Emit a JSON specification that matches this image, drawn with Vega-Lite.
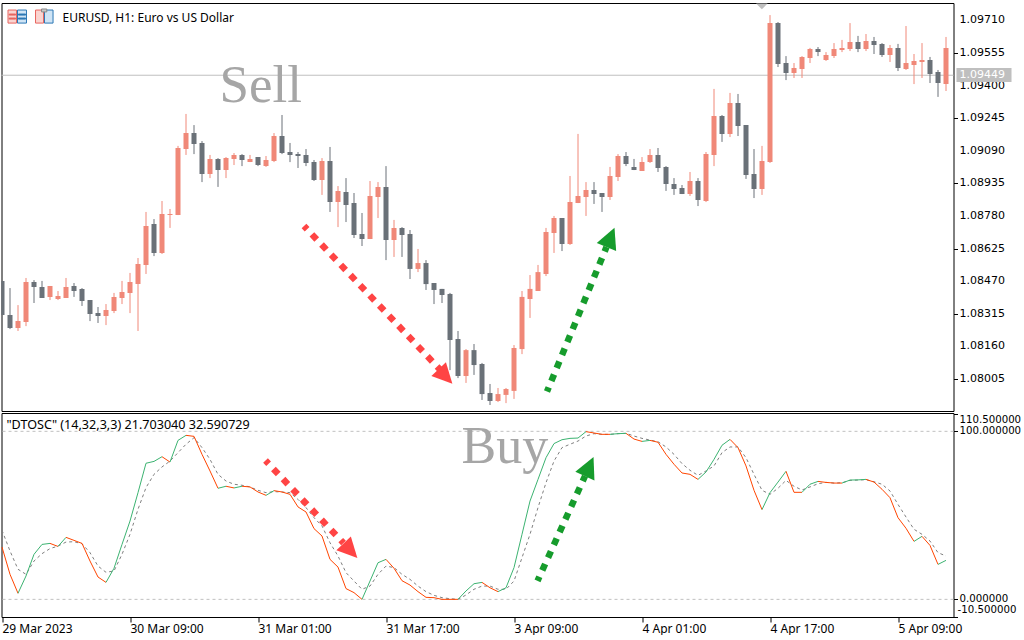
{
"$schema":"https://vega.github.io/schema/vega-lite/v6.json",
"padding":{"left":-0.5,"top":2,"right":0,"bottom":0},
"bounds":"flush",
"background":"white",
"spacing":2,
"config":{"view":{"stroke":"#000000","strokeWidth":1},"axis":{"grid":false,"domain":false,"title":null,"tickColor":"#000000","labelColor":"#000000","labelFont":"Noto Sans","labelFontSize":12,"tickSize":4,"labelPadding":1},"text":{"font":"Noto Sans","fontSize":12}},
"datasets":{
"candles":[
{"bar":0,"open":1.08471,"high":1.08471,"low":1.08309,"close":1.08309},
{"bar":1,"open":1.08309,"high":1.08437,"low":1.08242,"close":1.08247},
{"bar":2,"open":1.08247,"high":1.08356,"low":1.08233,"close":1.0828},
{"bar":3,"open":1.08276,"high":1.08485,"low":1.08256,"close":1.08466},
{"bar":4,"open":1.08466,"high":1.08475,"low":1.08366,"close":1.08442},
{"bar":5,"open":1.08442,"high":1.08471,"low":1.0839,"close":1.0839},
{"bar":6,"open":1.08395,"high":1.08447,"low":1.0838,"close":1.08447},
{"bar":7,"open":1.08385,"high":1.08423,"low":1.0838,"close":1.08399},
{"bar":8,"open":1.0839,"high":1.08485,"low":1.0839,"close":1.08442},
{"bar":9,"open":1.08447,"high":1.08461,"low":1.08395,"close":1.08423},
{"bar":10,"open":1.08433,"high":1.08437,"low":1.08352,"close":1.08376},
{"bar":11,"open":1.0838,"high":1.0838,"low":1.0828,"close":1.08314},
{"bar":12,"open":1.08318,"high":1.08347,"low":1.08271,"close":1.08304},
{"bar":13,"open":1.08304,"high":1.08361,"low":1.08261,"close":1.08333},
{"bar":14,"open":1.08328,"high":1.08414,"low":1.08318,"close":1.08395},
{"bar":15,"open":1.0839,"high":1.08471,"low":1.08361,"close":1.08418},
{"bar":16,"open":1.08414,"high":1.08509,"low":1.08318,"close":1.08466},
{"bar":17,"open":1.08456,"high":1.0858,"low":1.08233,"close":1.08551},
{"bar":18,"open":1.08547,"high":1.08799,"low":1.08504,"close":1.08732},
{"bar":19,"open":1.08742,"high":1.08765,"low":1.08589,"close":1.08604},
{"bar":20,"open":1.08604,"high":1.08851,"low":1.08599,"close":1.08789},
{"bar":21,"open":1.08784,"high":1.08813,"low":1.08723,"close":1.08789},
{"bar":22,"open":1.08784,"high":1.09113,"low":1.08784,"close":1.09103},
{"bar":23,"open":1.09098,"high":1.09265,"low":1.0907,"close":1.09174},
{"bar":24,"open":1.09174,"high":1.09212,"low":1.09074,"close":1.09122},
{"bar":25,"open":1.09127,"high":1.09136,"low":1.08941,"close":1.08979},
{"bar":26,"open":1.08979,"high":1.0907,"low":1.0896,"close":1.09051},
{"bar":27,"open":1.09051,"high":1.09055,"low":1.08918,"close":1.08998},
{"bar":28,"open":1.08998,"high":1.0906,"low":1.0896,"close":1.09055},
{"bar":29,"open":1.09051,"high":1.09079,"low":1.09022,"close":1.0907},
{"bar":30,"open":1.0907,"high":1.09074,"low":1.09017,"close":1.09046},
{"bar":31,"open":1.09036,"high":1.0907,"low":1.09036,"close":1.09051},
{"bar":32,"open":1.0906,"high":1.0906,"low":1.09017,"close":1.09022},
{"bar":33,"open":1.09017,"high":1.09065,"low":1.09013,"close":1.09046},
{"bar":34,"open":1.09041,"high":1.09174,"low":1.09036,"close":1.0916},
{"bar":35,"open":1.0916,"high":1.0926,"low":1.09074,"close":1.09079},
{"bar":36,"open":1.09084,"high":1.09127,"low":1.09036,"close":1.0907},
{"bar":37,"open":1.09074,"high":1.09084,"low":1.09008,"close":1.09065},
{"bar":38,"open":1.0907,"high":1.09098,"low":1.09017,"close":1.09032},
{"bar":39,"open":1.09036,"high":1.09046,"low":1.08946,"close":1.08951},
{"bar":40,"open":1.08951,"high":1.09055,"low":1.0888,"close":1.09041},
{"bar":41,"open":1.09041,"high":1.09108,"low":1.08799,"close":1.08846},
{"bar":42,"open":1.08846,"high":1.08922,"low":1.08727,"close":1.08899},
{"bar":43,"open":1.08894,"high":1.0896,"low":1.08751,"close":1.08832},
{"bar":44,"open":1.08841,"high":1.08889,"low":1.08675,"close":1.08689},
{"bar":45,"open":1.08694,"high":1.08794,"low":1.08637,"close":1.0867},
{"bar":46,"open":1.0867,"high":1.08946,"low":1.0867,"close":1.08875},
{"bar":47,"open":1.0887,"high":1.08941,"low":1.0877,"close":1.08918},
{"bar":48,"open":1.08918,"high":1.09017,"low":1.0857,"close":1.08666},
{"bar":49,"open":1.08666,"high":1.08761,"low":1.08585,"close":1.08723},
{"bar":50,"open":1.08723,"high":1.08727,"low":1.08585,"close":1.08689},
{"bar":51,"open":1.08694,"high":1.08713,"low":1.0848,"close":1.08528},
{"bar":52,"open":1.08528,"high":1.08623,"low":1.08513,"close":1.08556},
{"bar":53,"open":1.08556,"high":1.0857,"low":1.08428,"close":1.08456},
{"bar":54,"open":1.08461,"high":1.08461,"low":1.08361,"close":1.08428},
{"bar":55,"open":1.08433,"high":1.08433,"low":1.08366,"close":1.08404},
{"bar":56,"open":1.08409,"high":1.08414,"low":1.08047,"close":1.0819},
{"bar":57,"open":1.08195,"high":1.08233,"low":1.08009,"close":1.08019},
{"bar":58,"open":1.08019,"high":1.08147,"low":1.07986,"close":1.08142},
{"bar":59,"open":1.08142,"high":1.08171,"low":1.08024,"close":1.08071},
{"bar":60,"open":1.08076,"high":1.08081,"low":1.07905,"close":1.07933},
{"bar":61,"open":1.07938,"high":1.07981,"low":1.07881,"close":1.079},
{"bar":62,"open":1.079,"high":1.07962,"low":1.07895,"close":1.07933},
{"bar":63,"open":1.07929,"high":1.07962,"low":1.0789,"close":1.07957},
{"bar":64,"open":1.07948,"high":1.08166,"low":1.0791,"close":1.08152},
{"bar":65,"open":1.08147,"high":1.08423,"low":1.08123,"close":1.08395},
{"bar":66,"open":1.08385,"high":1.08499,"low":1.08295,"close":1.08433},
{"bar":67,"open":1.08423,"high":1.08547,"low":1.08423,"close":1.08513},
{"bar":68,"open":1.08504,"high":1.08723,"low":1.08494,"close":1.08704},
{"bar":69,"open":1.08699,"high":1.0878,"low":1.08604,"close":1.0877},
{"bar":70,"open":1.0877,"high":1.0877,"low":1.08613,"close":1.08647},
{"bar":71,"open":1.08647,"high":1.0897,"low":1.08642,"close":1.08846},
{"bar":72,"open":1.08841,"high":1.0917,"low":1.08841,"close":1.08875},
{"bar":73,"open":1.0887,"high":1.08941,"low":1.0878,"close":1.08903},
{"bar":74,"open":1.08903,"high":1.08941,"low":1.08837,"close":1.08884},
{"bar":75,"open":1.08889,"high":1.08889,"low":1.08799,"close":1.0887},
{"bar":76,"open":1.0887,"high":1.09013,"low":1.08856,"close":1.0897},
{"bar":77,"open":1.08965,"high":1.09074,"low":1.08946,"close":1.09065},
{"bar":78,"open":1.09065,"high":1.09084,"low":1.09017,"close":1.09027},
{"bar":79,"open":1.09013,"high":1.09051,"low":1.08998,"close":1.08998},
{"bar":80,"open":1.08994,"high":1.0906,"low":1.08994,"close":1.09036},
{"bar":81,"open":1.09036,"high":1.09098,"low":1.09032,"close":1.0907},
{"bar":82,"open":1.0907,"high":1.09103,"low":1.08989,"close":1.09008},
{"bar":83,"open":1.09013,"high":1.09017,"low":1.08899,"close":1.08932},
{"bar":84,"open":1.08932,"high":1.0896,"low":1.0888,"close":1.08908},
{"bar":85,"open":1.08913,"high":1.08927,"low":1.08884,"close":1.08884},
{"bar":86,"open":1.08884,"high":1.08989,"low":1.08875,"close":1.08946},
{"bar":87,"open":1.08946,"high":1.0896,"low":1.08827,"close":1.08856},
{"bar":88,"open":1.08851,"high":1.09084,"low":1.08846,"close":1.09074},
{"bar":89,"open":1.0907,"high":1.09384,"low":1.09017,"close":1.09255},
{"bar":90,"open":1.09255,"high":1.0926,"low":1.09132,"close":1.0917},
{"bar":91,"open":1.0917,"high":1.09365,"low":1.09155,"close":1.09317},
{"bar":92,"open":1.09317,"high":1.0936,"low":1.0916,"close":1.09208},
{"bar":93,"open":1.09212,"high":1.09212,"low":1.08956,"close":1.08975},
{"bar":94,"open":1.08979,"high":1.09098,"low":1.08865,"close":1.08908},
{"bar":95,"open":1.08908,"high":1.09113,"low":1.0888,"close":1.09041},
{"bar":96,"open":1.09036,"high":1.09735,"low":1.09032,"close":1.09697},
{"bar":97,"open":1.09697,"high":1.09702,"low":1.09488,"close":1.09502},
{"bar":98,"open":1.09507,"high":1.0954,"low":1.09426,"close":1.0946},
{"bar":99,"open":1.0946,"high":1.09507,"low":1.09436,"close":1.09483},
{"bar":100,"open":1.09479,"high":1.0954,"low":1.09436,"close":1.09536},
{"bar":101,"open":1.09531,"high":1.09579,"low":1.09507,"close":1.09574},
{"bar":102,"open":1.09574,"high":1.09583,"low":1.0954,"close":1.09559},
{"bar":103,"open":1.09521,"high":1.09559,"low":1.09517,"close":1.09545},
{"bar":104,"open":1.0954,"high":1.09602,"low":1.09531,"close":1.09574},
{"bar":105,"open":1.09569,"high":1.09617,"low":1.09559,"close":1.09579},
{"bar":106,"open":1.09574,"high":1.09697,"low":1.09564,"close":1.09607},
{"bar":107,"open":1.09607,"high":1.09636,"low":1.09559,"close":1.09574},
{"bar":108,"open":1.09574,"high":1.09645,"low":1.09564,"close":1.09612},
{"bar":109,"open":1.09612,"high":1.09631,"low":1.0955,"close":1.09593},
{"bar":110,"open":1.09598,"high":1.09602,"low":1.09536,"close":1.09545},
{"bar":111,"open":1.09545,"high":1.09593,"low":1.09512,"close":1.09579},
{"bar":112,"open":1.09579,"high":1.09598,"low":1.09469,"close":1.09483},
{"bar":113,"open":1.09479,"high":1.09683,"low":1.09474,"close":1.09507},
{"bar":114,"open":1.09498,"high":1.0955,"low":1.09407,"close":1.09517},
{"bar":115,"open":1.09512,"high":1.09602,"low":1.09436,"close":1.09521},
{"bar":116,"open":1.09521,"high":1.09536,"low":1.09412,"close":1.09455},
{"bar":117,"open":1.09464,"high":1.09474,"low":1.09346,"close":1.09412},
{"bar":118,"open":1.09407,"high":1.09631,"low":1.09374,"close":1.09579}
],
"osc":[
{"bar":0,"main":31.1,"signal":41.1},{"bar":1,"main":14.9,"signal":28.8},{"bar":2,"main":3.6,"signal":17.9},{"bar":3,"main":13.9,"signal":14.9},{"bar":4,"main":26.8,"signal":22.8},
{"bar":5,"main":32.7,"signal":27.2},{"bar":6,"main":33.3,"signal":30.2},{"bar":7,"main":31.5,"signal":31.7},{"bar":8,"main":36.9,"signal":34.1},{"bar":9,"main":35.1,"signal":34.3},
{"bar":10,"main":33.3,"signal":33.1},{"bar":11,"main":22.8,"signal":27.8},{"bar":12,"main":13.3,"signal":19.8},{"bar":13,"main":10.1,"signal":16.1},{"bar":14,"main":18.5,"signal":16.9},
{"bar":15,"main":32.7,"signal":26.8},{"bar":16,"main":46.6,"signal":38.7},{"bar":17,"main":63.5,"signal":53.6},{"bar":18,"main":81.0,"signal":66.5},{"bar":19,"main":82.1,"signal":74.4},
{"bar":20,"main":84.9,"signal":78.8},{"bar":21,"main":81.7,"signal":82.3},{"bar":22,"main":94.6,"signal":87.3},{"bar":23,"main":97.6,"signal":92.3},{"bar":24,"main":97.0,"signal":96.2},
{"bar":25,"main":86.3,"signal":90.3},{"bar":26,"main":76.4,"signal":83.3},{"bar":27,"main":66.1,"signal":74.4},{"bar":28,"main":67.3,"signal":70.4},{"bar":29,"main":66.3,"signal":68.5},
{"bar":30,"main":67.3,"signal":67.9},{"bar":31,"main":66.9,"signal":66.9},{"bar":32,"main":63.9,"signal":64.9},{"bar":33,"main":61.9,"signal":63.5},{"bar":34,"main":64.7,"signal":64.1},
{"bar":35,"main":63.9,"signal":63.9},{"bar":36,"main":62.5,"signal":63.5},{"bar":37,"main":55.0,"signal":59.5},{"bar":38,"main":52.0,"signal":54.6},{"bar":39,"main":42.1,"signal":48.6},
{"bar":40,"main":37.7,"signal":43.7},{"bar":41,"main":23.8,"signal":33.7},{"bar":42,"main":19.2,"signal":25.8},{"bar":43,"main":6.4,"signal":15.9},{"bar":44,"main":4.0,"signal":10.9},
{"bar":45,"main":0.0,"signal":6.0},{"bar":46,"main":10.9,"signal":7.9},{"bar":47,"main":21.8,"signal":14.9},{"bar":48,"main":23.8,"signal":19.8},{"bar":49,"main":18.5,"signal":18.9},
{"bar":50,"main":11.1,"signal":14.9},{"bar":51,"main":8.5,"signal":11.9},{"bar":52,"main":4.6,"signal":7.9},{"bar":53,"main":1.2,"signal":4.6},{"bar":54,"main":1.0,"signal":2.4},
{"bar":55,"main":0.0,"signal":1.0},{"bar":56,"main":0.0,"signal":0.4},{"bar":57,"main":0.0,"signal":0.0},{"bar":58,"main":5.0,"signal":2.6},{"bar":59,"main":9.3,"signal":6.0},
{"bar":60,"main":10.1,"signal":7.9},{"bar":61,"main":6.9,"signal":7.9},{"bar":62,"main":4.6,"signal":6.0},{"bar":63,"main":6.9,"signal":6.0},{"bar":64,"main":18.9,"signal":10.9},
{"bar":65,"main":38.7,"signal":24.8},{"bar":66,"main":58.5,"signal":38.7},{"bar":67,"main":71.4,"signal":54.6},{"bar":68,"main":84.3,"signal":69.4},{"bar":69,"main":92.7,"signal":82.3},
{"bar":70,"main":95.0,"signal":90.3},{"bar":71,"main":95.8,"signal":92.3},{"bar":72,"main":96.0,"signal":94.2},{"bar":73,"main":99.8,"signal":97.2},{"bar":74,"main":99.0,"signal":98.6},
{"bar":75,"main":98.2,"signal":98.2},{"bar":76,"main":98.2,"signal":98.2},{"bar":77,"main":98.6,"signal":98.6},{"bar":78,"main":98.8,"signal":98.8},{"bar":79,"main":95.4,"signal":97.2},
{"bar":80,"main":94.0,"signal":95.8},{"bar":81,"main":94.6,"signal":94.8},{"bar":82,"main":93.5,"signal":93.8},{"bar":83,"main":86.3,"signal":90.7},{"bar":84,"main":80.4,"signal":86.3},
{"bar":85,"main":75.2,"signal":80.8},{"bar":86,"main":74.4,"signal":76.8},{"bar":87,"main":71.4,"signal":73.8},{"bar":88,"main":75.8,"signal":76.4},{"bar":89,"main":83.3,"signal":79.4},
{"bar":90,"main":91.7,"signal":87.3},{"bar":91,"main":95.2,"signal":90.7},{"bar":92,"main":90.3,"signal":90.7},{"bar":93,"main":79.4,"signal":84.3},{"bar":94,"main":64.9,"signal":74.4},
{"bar":95,"main":53.4,"signal":64.9},{"bar":96,"main":63.5,"signal":62.5},{"bar":97,"main":69.8,"signal":66.1},{"bar":98,"main":76.2,"signal":70.8},{"bar":99,"main":63.7,"signal":67.3},
{"bar":100,"main":63.7,"signal":65.1},{"bar":101,"main":68.5,"signal":66.9},{"bar":102,"main":70.2,"signal":68.8},{"bar":103,"main":69.6,"signal":69.6},{"bar":104,"main":69.2,"signal":69.2},
{"bar":105,"main":69.2,"signal":69.4},{"bar":106,"main":71.0,"signal":70.8},{"bar":107,"main":71.1,"signal":71.0},{"bar":108,"main":71.4,"signal":71.2},{"bar":109,"main":69.8,"signal":70.0},
{"bar":110,"main":65.5,"signal":68.5},{"bar":111,"main":60.5,"signal":64.5},{"bar":112,"main":48.6,"signal":56.5},{"bar":113,"main":42.3,"signal":49.0},{"bar":114,"main":34.5,"signal":41.7},
{"bar":115,"main":37.5,"signal":38.7},{"bar":116,"main":32.1,"signal":34.7},{"bar":117,"main":20.8,"signal":27.8},{"bar":118,"main":23.2,"signal":25.8}
],
"priceArrows":[
{"arrow":"sell","bar":37.75,"price":1.08732},{"arrow":"sell","bar":54.81,"price":1.08047},
{"arrow":"buy","bar":68.125,"price":1.07945},{"arrow":"buy","bar":75.56,"price":1.08632}
],
"oscArrows":[
{"arrow":"sell","bar":32.94,"value":82.6},{"arrow":"sell","bar":42.69,"value":33.5},
{"arrow":"buy","bar":66.94,"value":11.0},{"arrow":"buy","bar":72.88,"value":73.4}
],
"icons":[
{"part":"red","bar":0.75,"bar2":1.81,"price":1.09759,"price2":1.09697},
{"part":"blue","bar":1.94,"bar2":3.06,"price":1.09759,"price2":1.09697},
{"part":"redLine","bar":0.9,"bar2":1.7,"price":1.0974,"price2":1.09735},
{"part":"redLine","bar":0.9,"bar2":1.7,"price":1.09721,"price2":1.09716},
{"part":"blueLine","bar":2.05,"bar2":2.95,"price":1.0974,"price2":1.09735},
{"part":"blueLine","bar":2.05,"bar2":2.95,"price":1.09721,"price2":1.09716},
{"part":"red","bar":4.19,"bar2":5.19,"price":1.09759,"price2":1.09697},
{"part":"blue","bar":5.31,"bar2":6.38,"price":1.09759,"price2":1.09697},
{"part":"grey","bar":4.94,"bar2":5.6,"price":1.09764,"price2":1.0975}
],
"priceLabels":[
{"bar":119.69,"price":1.0971,"label":"1.09710"},{"bar":119.69,"price":1.09555,"label":"1.09555"},{"bar":119.69,"price":1.094,"label":"1.09400"},
{"bar":119.69,"price":1.09245,"label":"1.09245"},{"bar":119.69,"price":1.0909,"label":"1.09090"},{"bar":119.69,"price":1.08935,"label":"1.08935"},
{"bar":119.69,"price":1.0878,"label":"1.08780"},{"bar":119.69,"price":1.08625,"label":"1.08625"},{"bar":119.69,"price":1.0847,"label":"1.08470"},
{"bar":119.69,"price":1.08315,"label":"1.08315"},{"bar":119.69,"price":1.0816,"label":"1.08160"},{"bar":119.69,"price":1.08005,"label":"1.08005"}
],
"oscLabels":[
{"bar":119.69,"value":106.7,"label":"110.500000"},{"bar":119.69,"value":100,"label":"100.000000"},
{"bar":119.69,"value":0,"label":"0.000000"},{"bar":119.45,"value":-6.5,"label":"-10.500000"}
]
},
"vconcat":[
{
"width":952,"height":408,
"layer":[
{"data":{"values":[{"price":1.09449}]},"mark":{"type":"rule","color":"#BFBFBF","strokeWidth":1},"encoding":{"y":{"field":"price","type":"quantitative","scale":{"domain":[1.078525,1.097925],"zero":false,"nice":false},"axis":{"orient":"right","values":[1.0971,1.09555,1.094,1.09245,1.0909,1.08935,1.0878,1.08625,1.0847,1.08315,1.0816,1.08005],"labels":false}}}},
{"data":{"name":"candles"},"mark":{"type":"rule","strokeWidth":1,"clip":true},"encoding":{"x":{"field":"bar","type":"quantitative","scale":{"domain":[-0.0625,118.9375],"nice":false,"zero":false,"padding":0},"axis":null},"y":{"field":"low","type":"quantitative"},"y2":{"field":"high"},"color":{"condition":{"test":"datum.close>=datum.open","value":"#F08878"},"value":"#6A7178"}}},
{"data":{"name":"candles"},"mark":{"type":"bar","size":5,"clip":true,"orient":"vertical"},"encoding":{"x":{"field":"bar","type":"quantitative"},"y":{"field":"open","type":"quantitative"},"y2":{"field":"close"},"color":{"condition":{"test":"datum.close>=datum.open","value":"#F08878"},"value":"#6A7178"}}},
{"data":{"name":"icons"},"mark":{"type":"rect"},"encoding":{"x":{"field":"bar","type":"quantitative"},"x2":{"field":"bar2"},"y":{"field":"price","type":"quantitative"},"y2":{"field":"price2"},"fill":{"field":"part","type":"nominal","legend":null,"scale":{"domain":["red","blue","redLine","blueLine","grey"],"range":["#FAD4D0","#CFE4F5","#E8655F","#2B77B5","#C8C8C8"]}},"stroke":{"field":"part","type":"nominal","legend":null,"scale":{"domain":["red","blue","redLine","blueLine","grey"],"range":["#E8655F","#2B77B5","#E8655F","#2B77B5","#8A8A8A"]}}}},
{"data":{"values":[{"bar":7.56,"price":1.09721,"label":"EURUSD, H1:  Euro vs US Dollar"}]},"mark":{"type":"text","align":"left","baseline":"middle","color":"#000000"},"encoding":{"x":{"field":"bar","type":"quantitative"},"y":{"field":"price","type":"quantitative"},"text":{"field":"label"}}},
{"data":{"values":[{"bar":27.2,"price":1.09322,"label":"Sell"}]},"mark":{"type":"text","align":"left","baseline":"alphabetic","font":"Liberation Serif","fontSize":53,"color":"#A6A6A6"},"encoding":{"x":{"field":"bar","type":"quantitative"},"y":{"field":"price","type":"quantitative"},"text":{"field":"label"}}},
{"data":{"name":"priceArrows"},"mark":{"type":"line","strokeWidth":6.5,"strokeDash":[7,7],"strokeDashOffset":2.5},"encoding":{"x":{"field":"bar","type":"quantitative"},"y":{"field":"price","type":"quantitative"},"color":{"field":"arrow","type":"nominal","legend":null,"scale":{"domain":["sell","buy"],"range":["#FF4444","#169C2C"]}}}},
{"data":{"values":[{"bar":55.44,"price":1.08017}]},"mark":{"type":"point","shape":"M0,-1L-1,1L1,1Z","size":400,"angle":136.7,"filled":true,"opacity":1,"color":"#FF4444"},"encoding":{"x":{"field":"bar","type":"quantitative"},"y":{"field":"price","type":"quantitative"}}},
{"data":{"values":[{"bar":76.06,"price":1.08678}]},"mark":{"type":"point","shape":"M0,-1L-1,1L1,1Z","size":441,"angle":22.5,"filled":true,"opacity":1,"color":"#169C2C"},"encoding":{"x":{"field":"bar","type":"quantitative"},"y":{"field":"price","type":"quantitative"}}},
{"data":{"values":[{"bar":94.98,"price":1.09776}]},"mark":{"type":"point","shape":"M-1,-0.5L1,-0.5L0,0.5Z","size":132,"filled":true,"opacity":1,"color":"#BFBFBF"},"encoding":{"x":{"field":"bar","type":"quantitative"},"y":{"field":"price","type":"quantitative"}}},
{"data":{"name":"priceLabels"},"mark":{"type":"text","align":"left","baseline":"middle","color":"#000000","font":"DejaVu Sans","fontSize":11},"encoding":{"x":{"field":"bar","type":"quantitative"},"y":{"field":"price","type":"quantitative"},"text":{"field":"label"}}},
{"data":{"values":[{"bar":119.31,"bar2":126.19,"price":1.09483,"price2":1.09417}]},"mark":{"type":"rect","color":"#BFBFBF"},"encoding":{"x":{"field":"bar","type":"quantitative"},"x2":{"field":"bar2"},"y":{"field":"price","type":"quantitative"},"y2":{"field":"price2"}}},
{"data":{"values":[{"bar":119.69,"price":1.09449,"label":"1.09449"}]},"mark":{"type":"text","align":"left","baseline":"middle","color":"#FFFFFF","font":"DejaVu Sans","fontSize":11},"encoding":{"x":{"field":"bar","type":"quantitative"},"y":{"field":"price","type":"quantitative"},"text":{"field":"label"}}}
],
"resolve":{"scale":{"color":"independent"}}
},
{
"width":952,"height":204,
"layer":[
{"data":{"values":[{"value":100},{"value":0}]},"mark":{"type":"rule","color":"#C0C0C0","strokeWidth":1,"strokeDash":[3,3]},"encoding":{"y":{"field":"value","type":"quantitative","scale":{"domain":[-10.5,110.9],"zero":false,"nice":false},"axis":{"orient":"right","values":[110.5,100,0,-10.5],"labels":false}}}},
{"data":{"name":"osc"},"mark":{"type":"line","stroke":"#808080","strokeWidth":1,"strokeDash":[3,3]},"encoding":{"x":{"field":"bar","type":"quantitative","scale":{"domain":[-0.0625,118.9375],"nice":false,"zero":false},"axis":{"orient":"bottom","values":[0,16,32,48,64,80,96,112],"labelExpr":"['29 Mar 2023','30 Mar 09:00','31 Mar 01:00','31 Mar 17:00','3 Apr 09:00','4 Apr 01:00','4 Apr 17:00','5 Apr 09:00'][datum.value/16]","labelAlign":"left","tickSize":5,"labelPadding":1,"labelBound":false,"labelFlush":false,"labelOverlap":false}},"y":{"field":"signal","type":"quantitative"}}},
{"data":{"name":"osc"},"transform":[{"window":[{"op":"lead","field":"main","as":"nextMain"},{"op":"lead","field":"bar","as":"nextBar"}],"sort":[{"field":"bar","order":"ascending"}]},{"filter":"isValid(datum.nextBar)"}],"mark":{"type":"rule","strokeWidth":1},"encoding":{"x":{"field":"bar","type":"quantitative"},"x2":{"field":"nextBar"},"y":{"field":"main","type":"quantitative"},"y2":{"field":"nextMain"},"color":{"condition":{"test":"datum.nextMain>datum.main","value":"#3CB371"},"value":"#FF4500"}}},
{"data":{"values":[{"bar":0.56,"value":103.9,"label":"\"DTOSC\" (14,32,3,3) 21.703040 32.590729"}]},"mark":{"type":"text","align":"left","baseline":"middle","color":"#000000","fontSize":12.6},"encoding":{"x":{"field":"bar","type":"quantitative"},"y":{"field":"value","type":"quantitative"},"text":{"field":"label"}}},
{"data":{"values":[{"bar":57.45,"value":81.3,"label":"Buy"}]},"mark":{"type":"text","align":"left","baseline":"alphabetic","font":"Liberation Serif","fontSize":52,"color":"#A6A6A6"},"encoding":{"x":{"field":"bar","type":"quantitative"},"y":{"field":"value","type":"quantitative"},"text":{"field":"label"}}},
{"data":{"name":"oscLabels"},"mark":{"type":"text","align":"left","baseline":"middle","color":"#000000","font":"DejaVu Sans","fontSize":10.2},"encoding":{"x":{"field":"bar","type":"quantitative"},"y":{"field":"value","type":"quantitative"},"text":{"field":"label"}}},
{"data":{"name":"oscArrows"},"mark":{"type":"line","strokeWidth":6.5,"strokeDash":[7,7],"strokeDashOffset":2.5},"encoding":{"x":{"field":"bar","type":"quantitative"},"y":{"field":"value","type":"quantitative"},"color":{"field":"arrow","type":"nominal","legend":null,"scale":{"domain":["sell","buy"],"range":["#FF4444","#169C2C"]}}}},
{"data":{"values":[{"bar":43.56,"value":29.0}]},"mark":{"type":"point","shape":"M0,-1L-1,1L1,1Z","size":400,"angle":136.5,"filled":true,"opacity":1,"color":"#FF4444"},"encoding":{"x":{"field":"bar","type":"quantitative"},"y":{"field":"value","type":"quantitative"}}},
{"data":{"values":[{"bar":73.4,"value":79.0}]},"mark":{"type":"point","shape":"M0,-1L-1,1L1,1Z","size":441,"angle":24.3,"filled":true,"opacity":1,"color":"#169C2C"},"encoding":{"x":{"field":"bar","type":"quantitative"},"y":{"field":"value","type":"quantitative"}}}
],
"resolve":{"scale":{"color":"independent"}}
}
]
}
